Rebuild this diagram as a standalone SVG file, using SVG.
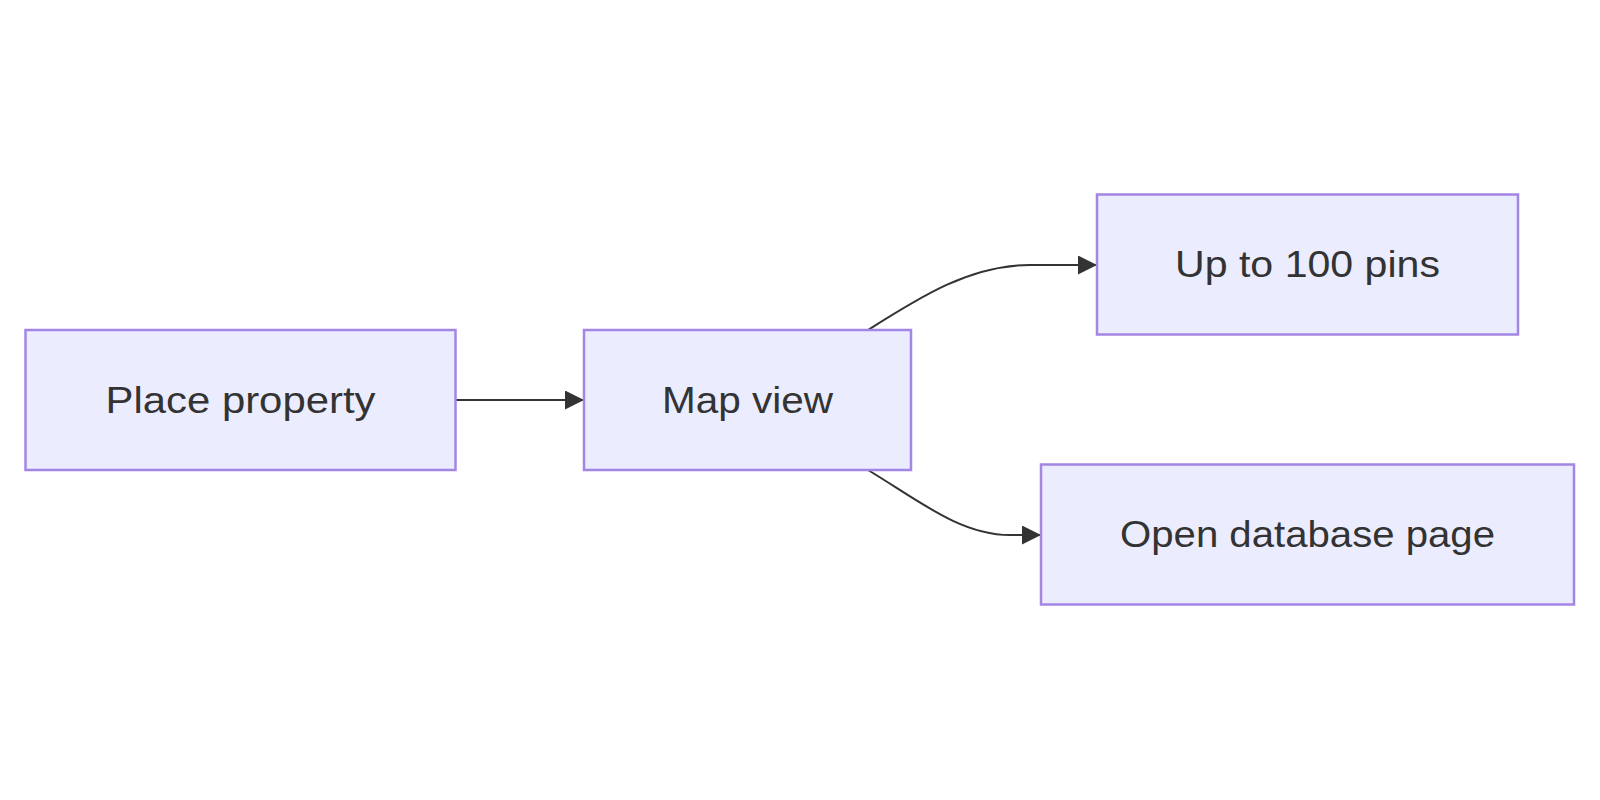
<svg xmlns="http://www.w3.org/2000/svg" width="1600" height="800" viewBox="0 0 1600 800">
<style>
.node rect{fill:#ECECFF;stroke:#A385E3;stroke-width:2.5}
.node text{font-family:"Liberation Sans",Arial,sans-serif;font-size:36px;fill:#333;text-anchor:middle;dominant-baseline:central}
.edge{fill:none;stroke:#333;stroke-width:2}
</style>
<defs>
<marker id="arrow" viewBox="0 0 10 10" refX="10" refY="5" markerWidth="19" markerHeight="19" markerUnits="userSpaceOnUse" orient="auto">
<path d="M0,0 L10,5 L0,10 z" fill="#333"/>
</marker>
</defs>
<rect width="1600" height="800" fill="#fff"/>
<g id="connectors">
<path class="edge" d="M456,400 L584,400" marker-end="url(#arrow)"/>
<path class="edge" d="M868,330 C920,297 970,265 1030,265 L1097,265" marker-end="url(#arrow)"/>
<path class="edge" d="M868,470 C918,500 960,535 1010,535 L1041,535" marker-end="url(#arrow)"/>
</g>
<g id="node-place" class="node">
<rect x="25.5" y="330" width="430" height="140"/>
<text x="240.5" y="400" textLength="270" lengthAdjust="spacingAndGlyphs">Place property</text>
</g>
<g id="node-map" class="node">
<rect x="584" y="330" width="327" height="140"/>
<text x="747.5" y="400" textLength="171" lengthAdjust="spacingAndGlyphs">Map view</text>
</g>
<g id="node-pins" class="node">
<rect x="1097" y="194.5" width="421" height="140"/>
<text x="1307.5" y="264.5" textLength="265" lengthAdjust="spacingAndGlyphs">Up to 100 pins</text>
</g>
<g id="node-db" class="node">
<rect x="1041" y="464.5" width="533" height="140"/>
<text x="1307.5" y="534.5" textLength="375" lengthAdjust="spacingAndGlyphs">Open database page</text>
</g>
</svg>
